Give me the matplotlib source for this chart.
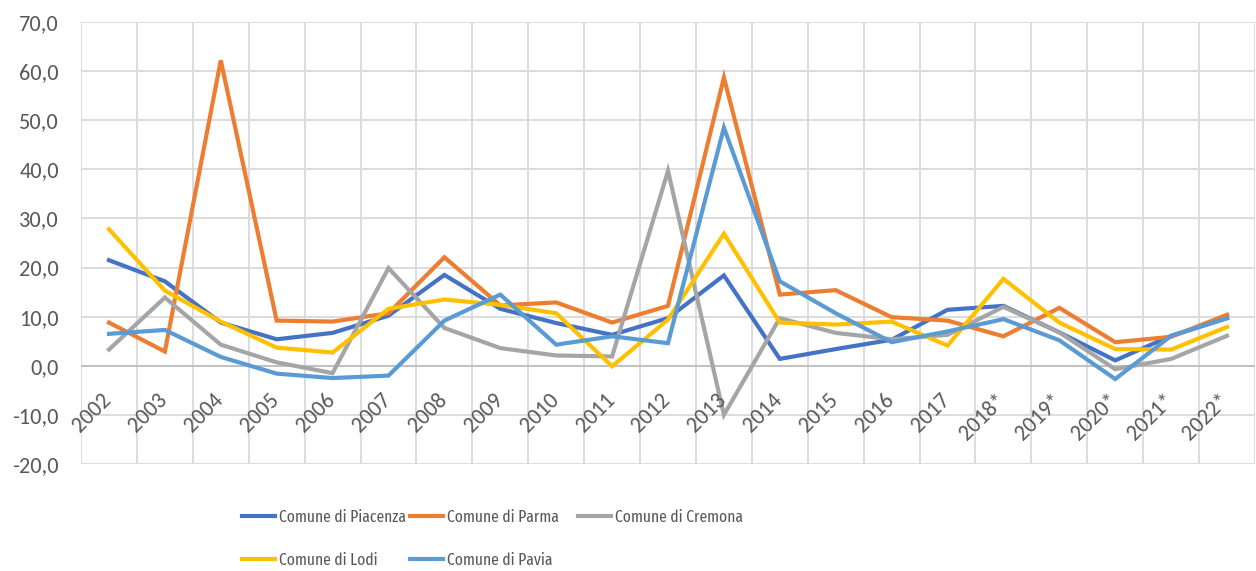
import matplotlib
matplotlib.use("Agg")
import matplotlib.pyplot as plt
from matplotlib import font_manager
from matplotlib.ticker import FuncFormatter, MultipleLocator
import numpy as np


def pick(names):
    for n in names:
        try:
            font_manager.findfont(n, fallback_to_default=False)
            return n
        except ValueError:
            pass
    return 'DejaVu Sans'


tick_font = pick(['Carlito', 'Lato'])
leg_font = pick(['Fira Sans Extra Condensed', 'Barlow Condensed', 'Saira Condensed',
                 'Roboto Condensed', 'Archivo Narrow', 'PT Sans Narrow', 'Carlito', 'Lato'])
plt.rcParams['font.family'] = [tick_font, 'DejaVu Sans']

years = ['2002', '2003', '2004', '2005', '2006', '2007', '2008', '2009', '2010', '2011',
         '2012', '2013', '2014', '2015', '2016', '2017', '2018*', '2019*', '2020*', '2021*', '2022*']

piacenza = [21.5, 17.2, 8.8, 5.4, 6.7, 10.2, 18.5, 11.6, 8.7, 6.3,
            9.7, 18.4, 1.4, 3.4, 5.3, 11.4, 12.2, 6.8, 1.1, 6.1, 9.7]
parma = [8.8, 2.9, 62.2, 9.2, 9.0, 10.7, 22.1, 12.3, 12.9, 8.8,
         12.2, 58.7, 14.5, 15.4, 9.9, 9.2, 6.0, 11.8, 4.8, 5.9, 10.4]
cremona = [3.3, 13.9, 4.3, 0.7, -1.5, 19.9, 7.7, 3.6, 2.1, 1.9,
           39.7, -10.0, 9.7, 6.7, 5.4, 6.3, 12.0, 6.8, -0.7, 1.4, 6.1]
lodi = [27.8, 15.3, 9.0, 3.7, 2.7, 11.6, 13.5, 12.4, 10.7, -0.1,
        9.4, 26.9, 8.8, 8.4, 9.0, 4.1, 17.7, 8.8, 3.4, 3.3, 7.9]
pavia = [6.5, 7.3, 1.8, -1.6, -2.5, -2.0, 9.2, 14.5, 4.3, 6.0,
         4.6, 48.5, 17.2, 10.7, 4.8, 7.0, 9.5, 5.2, -2.7, 6.1, 9.7]

series = [
    ('Comune di Piacenza', piacenza, '#4472C4'),
    ('Comune di Parma', parma, '#ED7D31'),
    ('Comune di Cremona', cremona, '#A5A5A5'),
    ('Comune di Lodi', lodi, '#FFC000'),
    ('Comune di Pavia', pavia, '#5B9BD5'),
]

txt = '#595959'
grid = '#D9D9D9'
fs = 16 if tick_font == 'Carlito' else 14.5

fig = plt.figure(figsize=(12.56, 5.71), dpi=100)
ax = fig.add_axes([0.0645, 0.1874, 0.9347, 0.774])

x = np.arange(len(years))
handles = {}
for name, vals, col in series:
    ln, = ax.plot(x, vals, color=col, lw=3.0, label=name, solid_joinstyle='miter', zorder=3)
    handles[name] = ln

ax.set_xlim(-0.5, len(years) - 0.5)
ax.set_ylim(-20, 70)
ax.yaxis.set_major_locator(MultipleLocator(10))
ax.yaxis.set_major_formatter(FuncFormatter(lambda v, p: ('%.1f' % v).replace('.', ',')))

# vertical grid at the category borders
for b in np.arange(-0.5, len(years), 1.0):
    ax.axvline(b, color=grid, lw=1.3, zorder=1)
ax.grid(axis='y', color=grid, lw=1.3, zorder=1)
ax.axhline(0, color='#BFBFBF', lw=1.3, zorder=2)

for s in ax.spines.values():
    s.set_visible(False)
ax.tick_params(axis='y', length=0, labelsize=fs, labelcolor=txt, pad=16)
ax.set_xticks([])

for i, lab in enumerate(years):
    ax.annotate(lab, xy=(i - 0.14, 0), xytext=(0, -17), textcoords='offset points',
                rotation=45, rotation_mode='anchor', ha='right', va='top',
                fontsize=fs, color=txt)

# legend text is narrow in the original: size it so the longest label is ~127 px wide
r = fig.canvas.get_renderer()
probe = fig.text(0, 0, 'Comune di Piacenza', family=leg_font, fontsize=10)
w10 = probe.get_window_extent(r).width
probe.remove()
lfs = min(15.5, 10 * 127 / w10)

# legend laid out in rows like the original (equal column widths)
cols = [['Comune di Piacenza', 'Comune di Lodi'],
        ['Comune di Parma', 'Comune di Pavia'],
        ['Comune di Cremona']]
xs = [0.1927, 0.3264, 0.4602]
for cx, names in zip(xs, cols):
    fig.legend([handles[n] for n in names], names, loc='upper left',
               bbox_to_anchor=(cx, 0.108), frameon=False,
               prop={'family': [leg_font, 'DejaVu Sans'], 'size': lfs},
               handlelength=33 / (lfs * 100 / 72), handletextpad=0.25,
               labelspacing=(44 / (lfs * 100 / 72)) - 1.0,
               labelcolor=txt, borderaxespad=0, borderpad=0)

fig.savefig('out.png', dpi=100)
